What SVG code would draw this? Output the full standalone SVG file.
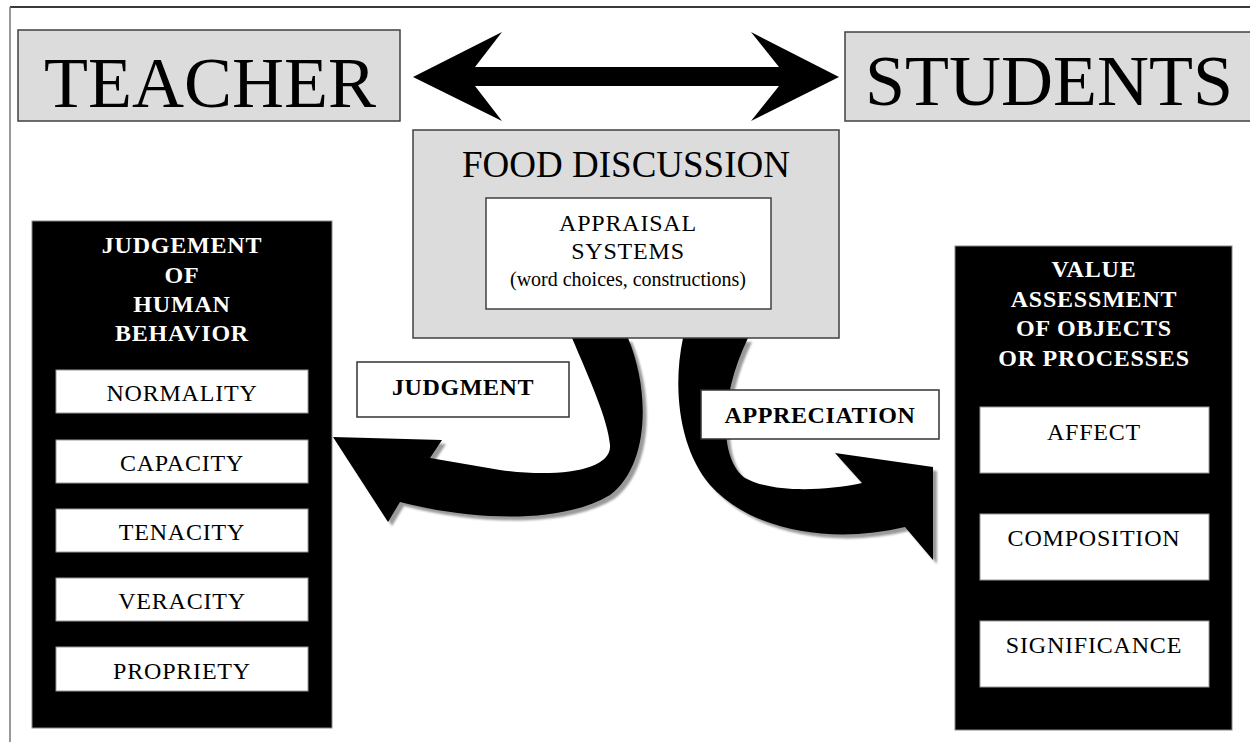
<svg xmlns="http://www.w3.org/2000/svg" width="1250" height="742" viewBox="0 0 1250 742">
  <style>
    .serif { font-family: "Liberation Serif", "Times New Roman", serif; }
    .big { font-size: 72px; fill: #000; text-anchor: middle; }
    .head { font-size: 37px; fill: #000; text-anchor: middle; }
    .grey { fill: #dcdcdc; stroke: #404040; stroke-width: 1.5; }
    .label { fill: #fff; stroke: #333; stroke-width: 1.5; }
    .panel { fill: #000; stroke: #888; stroke-width: 1; }
    .cell { fill: #fff; stroke: #999; stroke-width: 1; }
    .title { font-size: 24px; font-weight: bold; fill: #fff; text-anchor: middle; letter-spacing: 0.8px; }
    .item { font-size: 24px; fill: #000; text-anchor: middle; letter-spacing: 0.8px; }
    .tag { font-size: 24px; font-weight: bold; fill: #000; text-anchor: middle; letter-spacing: 0.6px; }
    .shadow { fill: #9a9a9a; }
  </style>
  <defs>
    <filter id="soft" x="-10%" y="-10%" width="120%" height="120%">
      <feGaussianBlur stdDeviation="1.2"/>
    </filter>
  </defs>

  <rect width="1250" height="742" fill="#fff"/>

  <!-- page frame -->
  <line x1="10" y1="7" x2="1250" y2="7" stroke="#3a3a3a" stroke-width="2"/>
  <line x1="10" y1="7" x2="10" y2="742" stroke="#777" stroke-width="1.5"/>

  <!-- connectors -->
  <g id="connectors">
    <!-- two-way arrow between teacher and students -->
    <polygon fill="#000" points="413,77 502,32 475,67 779,67 751,32 839,77 751,121 779,86 475,86 502,121"/>

    <!-- curved arrow towards judgement -->
    <g id="arrow-judgment">
      <path class="shadow" filter="url(#soft)" transform="translate(4,4)" d="M572,338 C590,380 608,420 610,445 C612,470 560,478 500,470 L430,458 L442,440 L333,437 L388,522 L400,502 C470,520 560,525 610,495 C650,465 650,390 628,338 Z"/>
      <path fill="#000" d="M572,338 C590,380 608,420 610,445 C612,470 560,478 500,470 L430,458 L442,440 L333,437 L388,522 L400,502 C470,520 560,525 610,495 C650,465 650,390 628,338 Z"/>
    </g>

    <!-- curved arrow towards value assessment -->
    <g id="arrow-appreciation">
      <path class="shadow" filter="url(#soft)" transform="translate(4,4)" d="M683,338 C672,390 680,450 710,485 C750,530 830,545 905,527 L933,560 L933,467 L835,453 L862,483 C820,492 770,492 745,478 C720,460 718,400 748,338 Z"/>
      <path fill="#000" d="M683,338 C672,390 680,450 710,485 C750,530 830,545 905,527 L933,560 L933,467 L835,453 L862,483 C820,492 770,492 745,478 C720,460 718,400 748,338 Z"/>
    </g>
  </g>

  <!-- top actors -->
  <g id="teacher">
    <rect class="grey" x="18" y="30" width="382" height="91"/>
    <text class="serif big" x="210" y="107">TEACHER</text>
  </g>
  <g id="students">
    <rect class="grey" x="845" y="32" width="420" height="89"/>
    <text class="serif big" x="1049" y="105">STUDENTS</text>
  </g>

  <!-- central discussion -->
  <g id="food-discussion">
    <rect class="grey" x="413" y="130" width="426" height="208"/>
    <text class="serif head" x="626" y="177">FOOD DISCUSSION</text>
    <g id="appraisal-systems">
      <rect x="486" y="198" width="285" height="111" fill="#fff" stroke="#404040" stroke-width="1.5"/>
      <text class="serif item" x="628" y="231">APPRAISAL</text>
      <text class="serif item" x="628" y="259">SYSTEMS</text>
      <text class="serif" x="628" y="286" font-size="20" text-anchor="middle">(word choices, constructions)</text>
    </g>
  </g>

  <!-- arrow labels -->
  <g id="judgment-label">
    <rect class="label" x="357" y="362" width="212" height="55"/>
    <text class="serif tag" x="463" y="395">JUDGMENT</text>
  </g>
  <g id="appreciation-label">
    <rect class="label" x="701" y="390" width="238" height="49"/>
    <text class="serif tag" x="820" y="423">APPRECIATION</text>
  </g>

  <!-- judgement panel -->
  <g id="judgement-panel">
    <rect class="panel" x="32" y="221" width="300" height="507"/>
    <text class="serif title" x="182" y="253">JUDGEMENT</text>
    <text class="serif title" x="182" y="283">OF</text>
    <text class="serif title" x="182" y="312">HUMAN</text>
    <text class="serif title" x="182" y="341">BEHAVIOR</text>
    <g id="normality">
      <rect class="cell" x="56" y="370" width="252" height="43"/>
      <text class="serif item" x="182" y="401">NORMALITY</text>
    </g>
    <g id="capacity">
      <rect class="cell" x="56" y="440" width="252" height="43"/>
      <text class="serif item" x="182" y="471">CAPACITY</text>
    </g>
    <g id="tenacity">
      <rect class="cell" x="56" y="509" width="252" height="43"/>
      <text class="serif item" x="182" y="540">TENACITY</text>
    </g>
    <g id="veracity">
      <rect class="cell" x="56" y="578" width="252" height="43"/>
      <text class="serif item" x="182" y="609">VERACITY</text>
    </g>
    <g id="propriety">
      <rect class="cell" x="56" y="647" width="252" height="44"/>
      <text class="serif item" x="182" y="679">PROPRIETY</text>
    </g>
  </g>

  <!-- value assessment panel -->
  <g id="value-panel">
    <rect class="panel" x="955" y="246" width="277" height="484"/>
    <text class="serif title" x="1094" y="277">VALUE</text>
    <text class="serif title" x="1094" y="307">ASSESSMENT</text>
    <text class="serif title" x="1094" y="336">OF OBJECTS</text>
    <text class="serif title" x="1094" y="366">OR PROCESSES</text>
    <g id="affect">
      <rect class="cell" x="980" y="407" width="229" height="66"/>
      <text class="serif item" x="1094" y="440">AFFECT</text>
    </g>
    <g id="composition">
      <rect class="cell" x="980" y="514" width="229" height="66"/>
      <text class="serif item" x="1094" y="546">COMPOSITION</text>
    </g>
    <g id="significance">
      <rect class="cell" x="980" y="621" width="229" height="66"/>
      <text class="serif item" x="1094" y="653">SIGNIFICANCE</text>
    </g>
  </g>
</svg>
